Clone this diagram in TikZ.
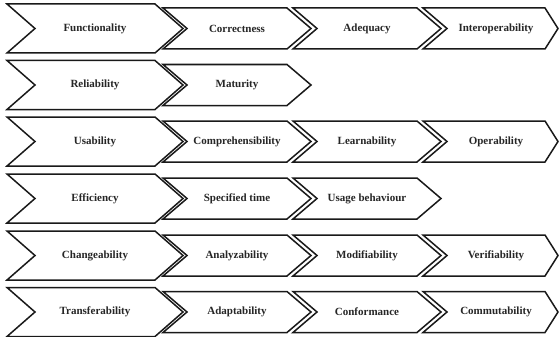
\documentclass[tikz,border=0pt]{standalone}
\usepackage{fontspec}
\setmainfont{Liberation Serif}
\begin{document}
\begin{tikzpicture}[x=1pt,y=-1pt,
  chev/.style={draw=black!90,line width=1.5pt,fill=white,line join=miter},
  lbl/.style={font=\fontsize{11}{13}\selectfont\bfseries,inner sep=0pt,text=black!85}]
% #1 name, #2 left top x, #3 right top x, #4 notch depth, #5 tip depth,
% #6 centre y, #7 half height, #8 label
\newcommand\drawchev[8]{%
  \draw[chev] (#2,#6-#7) -- (#3,#6-#7) -- (#3+#5,#6) -- (#3,#6+#7)
    -- (#2,#6+#7) -- (#2+#4,#6) -- cycle;
  \node[lbl] (#1) at ({(#2+#4+#3)/2},#6) {#8};}
\newcommand\mainchev[3]{\drawchev{#1}{7}{155}{28}{28}{#2}{24.5}{#3}}
\newcommand\chevB[3]{\drawchev{#1}{163}{287}{24}{24}{#2}{20.5}{#3}}
\newcommand\chevC[3]{\drawchev{#1}{293}{417}{24}{24}{#2}{20.5}{#3}}
\newcommand\chevD[3]{\drawchev{#1}{423}{545}{24}{13}{#2}{20.5}{#3}}
\useasboundingbox (0,0) rectangle (559,337);
% Functionality
\mainchev{func}{28.5}{Functionality}
\chevB{corr}{28.5}{Correctness}
\chevC{adeq}{28.5}{Adequacy}
\chevD{inter}{28.5}{Interoperability}
% Reliability
\mainchev{rel}{85}{Reliability}
\chevB{mat}{85}{Maturity}
% Usability
\mainchev{usab}{141.5}{Usability}
\chevB{compr}{141.5}{Comprehensibility}
\chevC{learn}{141.5}{Learnability}
\chevD{oper}{141.5}{Operability}
% Efficiency
\mainchev{eff}{198.5}{Efficiency}
\chevB{spec}{198.5}{Specified time}
\chevC{usage}{198.5}{Usage behaviour}
% Changeability
\mainchev{chg}{255.5}{Changeability}
\chevB{anal}{255.5}{Analyzability}
\chevC{modif}{255.5}{Modifiability}
\chevD{verif}{255.5}{Verifiability}
% Transferability
\mainchev{trans}{312}{Transferability}
\chevB{adapt}{312}{Adaptability}
\chevC{conf}{312}{Conformance}
\chevD{comm}{312}{Commutability}
\end{tikzpicture}
\end{document}
